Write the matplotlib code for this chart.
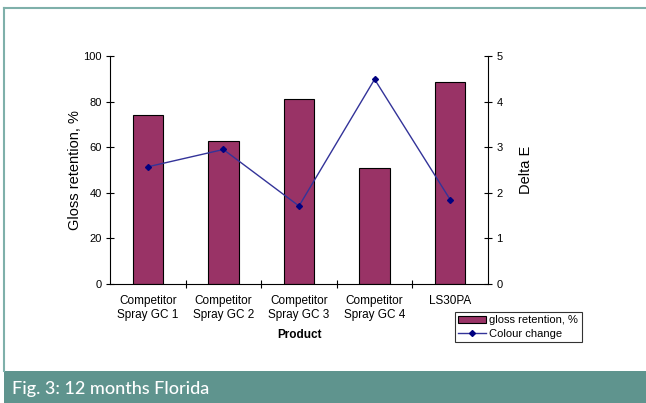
import numpy as np
import matplotlib
matplotlib.use("Agg")
import matplotlib.pyplot as plt
from matplotlib.patches import Rectangle
from matplotlib.lines import Line2D

products = ["Competitor\nSpray GC 1", "Competitor\nSpray GC 2", "Competitor\nSpray GC 3",
            "Competitor\nSpray GC 4", "LS30PA"]
gloss_retention = [74.3, 62.5, 81.0, 50.7, 88.6]
colour_change = [2.57, 2.95, 1.71, 4.49, 1.85]

plt.rcParams['font.family'] = ['Liberation Sans', 'DejaVu Sans']

W, H = 646, 403
fig = plt.figure(figsize=(W / 100, H / 100), dpi=100)

# frame and caption band
teal = '#5f948e'
fig.patches.append(Rectangle((4 / W, 0), 1 - 4 / W, 32 / H, transform=fig.transFigure,
                             facecolor=teal, edgecolor='none', zorder=0))
fig.add_artist(Line2D([4 / W, 4 / W], [32 / H, 1 - 7.5 / H], transform=fig.transFigure,
                      color='#7fb0aa', lw=1.5))
fig.add_artist(Line2D([4 / W, 1], [1 - 7.5 / H, 1 - 7.5 / H], transform=fig.transFigure,
                      color='#7fb0aa', lw=1.5))
fig.text(12 / W, 14 / H, "Fig. 3: 12 months Florida", color='white', fontsize=13,
         family=['Lato', 'DejaVu Sans'], fontweight='medium', va='center', ha='left')

ax = fig.add_axes([110 / W, 1 - 284 / H, (488 - 110) / W, (284 - 56) / H])
x = np.arange(len(products))
bars = ax.bar(x, gloss_retention, width=0.4, color='#993366', edgecolor='black',
              linewidth=0.8, label='gloss retention, %', zorder=2)
ax.set_xlim(-0.5, len(products) - 0.5)
ax.set_ylim(0, 100)
ax.set_yticks(np.arange(0, 101, 20))
ax.set_xticks(x)
ax.set_xticklabels(products, fontsize=8.5)
ax.set_xticks(np.arange(0.5, len(products) - 0.5, 1), minor=True)
ax.tick_params(axis='x', which='major', length=0, pad=8)
ax.tick_params(axis='x', which='minor', length=6, direction='inout', width=0.8)
ax.tick_params(axis='y', length=6, direction='inout', width=0.8, labelsize=8, pad=3)
for s in ['top', 'right']:
    ax.spines[s].set_visible(False)
for s in ['left', 'bottom']:
    ax.spines[s].set_linewidth(0.8)
ax.set_ylabel("Gloss retention, %", fontsize=10.5, labelpad=1)
ax.set_xlabel("Product", fontsize=8.5, fontweight='bold', labelpad=6)

ax2 = ax.twinx()
line, = ax2.plot(x, colour_change, color='#333399', lw=1, marker='D', markersize=3,
                 markerfacecolor='#000080', markeredgecolor='#000080', label='Colour change',
                 zorder=3)
ax2.set_ylim(0, 5)
ax2.set_yticks(np.arange(0, 6, 1))
for s in ['top', 'left', 'bottom']:
    ax2.spines[s].set_visible(False)
ax2.spines['right'].set_linewidth(0.8)
ax2.tick_params(axis='y', length=6, direction='inout', width=0.8, labelsize=8, pad=3)
ax2.set_ylabel("Delta E", fontsize=10.5, labelpad=12)

leg = fig.legend([bars, line], ['gloss retention, %', 'Colour change'],
                 loc='upper left', bbox_to_anchor=(455 / W, 1 - 312 / H),
                 bbox_transform=fig.transFigure, fontsize=8, frameon=True, fancybox=False,
                 edgecolor='black', borderpad=0.3, handlelength=2.5, handletextpad=0.3,
                 labelspacing=0.3, borderaxespad=0)
leg.get_frame().set_linewidth(0.8)

fig.savefig("out.png", dpi=100)
